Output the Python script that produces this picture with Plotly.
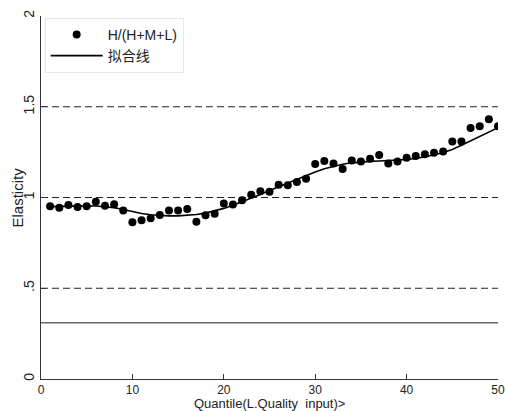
import plotly.graph_objects as go

quantiles = list(range(1, 51))
elasticity = [
    0.952, 0.943, 0.959, 0.948, 0.952, 0.976, 0.954, 0.963, 0.928, 0.864,
    0.875, 0.886, 0.904, 0.928, 0.928, 0.937, 0.867, 0.902, 0.910, 0.967,
    0.961, 0.985, 1.015, 1.035, 1.031, 1.070, 1.068, 1.085, 1.103, 1.184,
    1.201, 1.188, 1.157, 1.204, 1.199, 1.214, 1.234, 1.188, 1.199, 1.219,
    1.228, 1.238, 1.247, 1.254, 1.309, 1.309, 1.383, 1.392, 1.431, 1.392,
]
fitted = [
    0.950, 0.952, 0.953, 0.954, 0.954, 0.953, 0.950, 0.944, 0.934, 0.922,
    0.912, 0.905, 0.901, 0.899, 0.899, 0.901, 0.906, 0.914, 0.925, 0.940,
    0.957, 0.976, 0.996, 1.017, 1.038, 1.059, 1.080, 1.101, 1.122, 1.141,
    1.158, 1.172, 1.183, 1.191, 1.196, 1.199, 1.201, 1.203, 1.205, 1.209,
    1.215, 1.223, 1.234, 1.248, 1.265, 1.288, 1.312, 1.337, 1.361, 1.385,
]
dashed_levels = [0.5, 1.0, 1.5]
solid_level = 0.31
x_ticks = [0, 10, 20, 30, 40, 50]
y_ticks = [0, 0.5, 1, 1.5, 2]
y_tick_text = ["0", ".5", "1", "1.5", "2"]

font = "Liberation Sans, Arial, sans-serif"

fig = go.Figure()
fig.add_trace(go.Scatter(
    x=quantiles, y=elasticity, mode="markers", name="H/(H+M+L)",
    marker=dict(color="black", size=8),
))
fig.add_trace(go.Scatter(
    x=quantiles, y=fitted, mode="lines", name="拟合线",
    line=dict(color="black", width=1.6),
))

for lv in dashed_levels:
    fig.add_shape(type="line", xref="x", yref="y", x0=0, x1=50, y0=lv, y1=lv,
                  line=dict(color="#222222", width=1, dash="7px,4px"), layer="below")
fig.add_shape(type="line", xref="x", yref="y", x0=0, x1=50, y0=solid_level, y1=solid_level,
              line=dict(color="#666666", width=1.3), layer="below")

fig.add_annotation(text="Quantile(L.Quality  input)>", xref="paper", yref="paper",
                   x=0.5, y=-0.068, xanchor="center", yanchor="middle", showarrow=False,
                   font=dict(family=font, size=13, color="#222222"))
fig.add_annotation(text="Elasticity", xref="paper", yref="paper",
                   x=-0.0525, y=0.5, xanchor="center", yanchor="middle", showarrow=False,
                   textangle=-90, font=dict(family=font, size=15, color="#222222"))

fig.update_layout(
    width=506, height=411,
    margin=dict(l=41, r=8, t=16, b=32, autoexpand=False),
    paper_bgcolor="white", plot_bgcolor="white",
    font=dict(family=font, size=13, color="#222222"),
    showlegend=True,
    legend=dict(
        x=0.008, y=0.995, xanchor="left", yanchor="top",
        bordercolor="#e6e6e6", borderwidth=1, bgcolor="white",
        font=dict(family="Liberation Sans, Noto Sans CJK SC, sans-serif", size=14),
        itemwidth=52, tracegroupgap=0,
    ),
    xaxis=dict(
        range=[0, 50], tickvals=x_ticks, ticks="inside", ticklen=5,
        tickcolor="#333333", showline=True, linecolor="#333333", linewidth=1,
        showgrid=False, zeroline=False, automargin=False,
        tickfont=dict(family=font, size=12),
    ),
    yaxis=dict(
        range=[0, 2], tickvals=y_ticks, ticktext=y_tick_text, ticks="inside", ticklen=5,
        tickcolor="#333333", showline=True, linecolor="#333333", linewidth=1,
        showgrid=False, zeroline=False, tickangle=-90, automargin=False,
        tickfont=dict(family=font, size=14),
    ),
)

fig.write_html("out.html", config={"displayModeBar": False},
               post_script="document.body.style.margin='0';document.body.style.overflow='hidden';")
